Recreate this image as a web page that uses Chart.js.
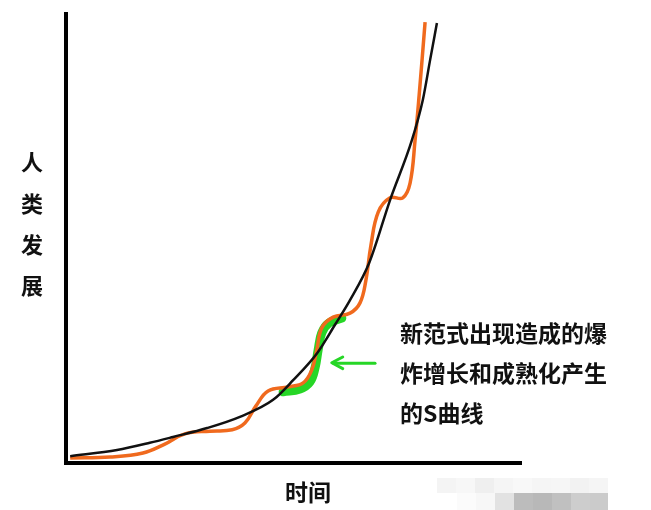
<!DOCTYPE html>
<html>
<head>
<meta charset="utf-8">
<script src="https://cdn.jsdelivr.net/npm/chart.js@4.4.1/dist/chart.umd.min.js"></script>
<style>
  html, body { margin: 0; padding: 0; background: #ffffff; }
  #wrap { width: 651px; height: 510px; position: relative; }
</style>
</head>
<body>
<div id="wrap"><canvas id="c" width="651" height="510"></canvas></div>
<script>
// Trend (black) curve: [time, development]
const trendX = [0.7, 11.0, 18.2, 23.3, 30.8, 38.0, 45.3, 49.7, 55.0, 58.9, 62.2, 66.4, 71.0, 75.8, 78.2, 79.8, 81.3];
const trendY = [1.3, 2.7, 4.3, 5.6, 7.6, 10.1, 13.9, 18.3, 24.4, 30.7, 36.2, 44.5, 58.6, 72.0, 81.0, 89.9, 98.2];

// Stepped S-curves (orange)
const stepX = [0.7, 9.5, 16.7, 21.5, 25.9, 31.4, 36.3, 39.1, 41.5, 44.2, 48.6, 51.9, 53.8, 54.9, 56.0, 58.5, 62.2, 64.4, 65.7, 66.8, 68.4, 71.0, 73.8, 75.4, 76.5, 77.4, 78.7];
const stepY = [0.9, 1.1, 2.0, 4.0, 6.3, 6.9, 7.2, 8.7, 12.5, 15.9, 16.8, 17.7, 20.6, 25.1, 30.0, 32.4, 33.3, 35.6, 40.7, 48.5, 55.9, 59.1, 59.1, 62.4, 72.0, 82.1, 98.4];

// Highlighted S-curve (green)
const sX = [47.5, 51.2, 53.4, 54.5, 55.2, 56.0, 57.6, 60.4];
const sY = [15.7, 16.3, 17.9, 21.0, 25.1, 28.9, 31.1, 32.2];

// Arrow (green)
const arrowShaftX = [67.7, 58.6];
const arrowShaftY = [22.1, 22.1];
const arrowHeadX = [60.6, 58.2, 60.6];
const arrowHeadY = [23.5, 22.2, 20.9];

// Texts
const yLabelChars = ['人', '类', '发', '展'];
const xLabel = '时间';
const noteLines = ['新范式出现造成的爆', '炸增长和成熟化产生', '的S曲线'];

const zip = (xs, ys) => xs.map((x, i) => ({ x: x, y: ys[i] }));

const ORANGE = '#f06a1e';
const GREEN = '#26d626';
const FONT = '"Noto Sans CJK SC", "Noto Sans", sans-serif';

const decor = {
  id: 'decor',
  beforeDatasetsDraw(chart) {
    const ctx = chart.ctx;
    const a = chart.chartArea;
    ctx.save();
    ctx.strokeStyle = '#000000';
    ctx.lineWidth = 4;
    ctx.lineCap = 'butt';
    ctx.beginPath();
    ctx.moveTo(a.left - 1, a.top - 3);
    ctx.lineTo(a.left - 1, a.bottom + 3);
    ctx.stroke();
    ctx.beginPath();
    ctx.moveTo(a.left - 3, a.bottom + 1);
    ctx.lineTo(a.right, a.bottom + 1);
    ctx.stroke();
    ctx.restore();
  },
  afterDraw(chart) {
    const ctx = chart.ctx;
    const xs = chart.scales.x;
    ctx.save();
    ctx.fillStyle = '#111111';
    ctx.textBaseline = 'middle';
    // y label
    ctx.textAlign = 'center';
    ctx.font = 'bold 22px ' + FONT;
    const yCenters = [162, 204, 245, 286];
    yLabelChars.forEach((ch, i) => ctx.fillText(ch, 32, yCenters[i]));
    // x label
    ctx.font = 'bold 23px ' + FONT;
    ctx.fillText(xLabel, 308, 492);
    // note
    ctx.textAlign = 'left';
    ctx.font = 'bold 23px ' + FONT;
    const lx = xs.getPixelForValue(73.2);
    noteLines.forEach((t, i) => ctx.fillText(t, lx, 333 + i * 40));
    // faint mosaic watermark
    const blocks = [
      [437, 478, 19, 15, '#f4f4f4'], [456, 478, 19, 15, '#f7f7f7'], [475, 478, 19, 15, '#efefef'],
      [494, 478, 19, 15, '#f5f5f5'], [513, 478, 19, 15, '#f8f8f8'], [532, 478, 19, 15, '#f5f5f5'],
      [551, 478, 19, 15, '#f6f6f6'], [570, 478, 19, 15, '#f2f2f2'], [589, 478, 19, 15, '#f5f5f5'],
      [495, 493, 19, 17, '#e2e2e2'], [514, 493, 19, 17, '#bcbcbc'], [533, 493, 19, 17, '#b8b8b8'],
      [552, 493, 19, 17, '#c0c0c0'], [571, 493, 19, 17, '#cdcdcd'], [590, 493, 18, 17, '#cbcbcb'],
      [457, 493, 19, 17, '#fbfbfb'], [476, 493, 19, 17, '#f7f7f7']
    ];
    blocks.forEach(b => { ctx.fillStyle = b[4]; ctx.fillRect(b[0], b[1], b[2], b[3]); });
    ctx.restore();
  }
};

new Chart(document.getElementById('c'), {
  type: 'line',
  data: {
    datasets: [
      { data: zip(trendX, trendY), borderColor: '#111111', borderWidth: 2.5, cubicInterpolationMode: 'monotone', pointRadius: 0, fill: false, clip: false },
      { data: zip(stepX, stepY), borderColor: ORANGE, borderWidth: 3.5, tension: 0.4, pointRadius: 0, fill: false, clip: false },
      { data: zip(sX, sY), borderColor: GREEN, borderWidth: 9, tension: 0.4, pointRadius: 0, fill: false, borderCapStyle: 'round', clip: false },
      { data: zip(arrowShaftX, arrowShaftY), borderColor: GREEN, borderWidth: 3, tension: 0, pointRadius: 0, fill: false, borderCapStyle: 'round', clip: false },
      { data: zip(arrowHeadX, arrowHeadY), borderColor: GREEN, borderWidth: 3, tension: 0, pointRadius: 0, fill: false, borderCapStyle: 'round', borderJoinStyle: 'round', clip: false }
    ]
  },
  options: {
    responsive: false,
    animation: false,
    events: [],
    layout: { padding: { left: 67, top: 15, right: 129, bottom: 48 } },
    plugins: { legend: { display: false }, tooltip: { enabled: false } },
    scales: {
      x: { type: 'linear', min: 0, max: 100, display: false },
      y: { type: 'linear', min: 0, max: 100, display: false }
    }
  },
  plugins: [decor]
});
</script>
</body>
</html>
